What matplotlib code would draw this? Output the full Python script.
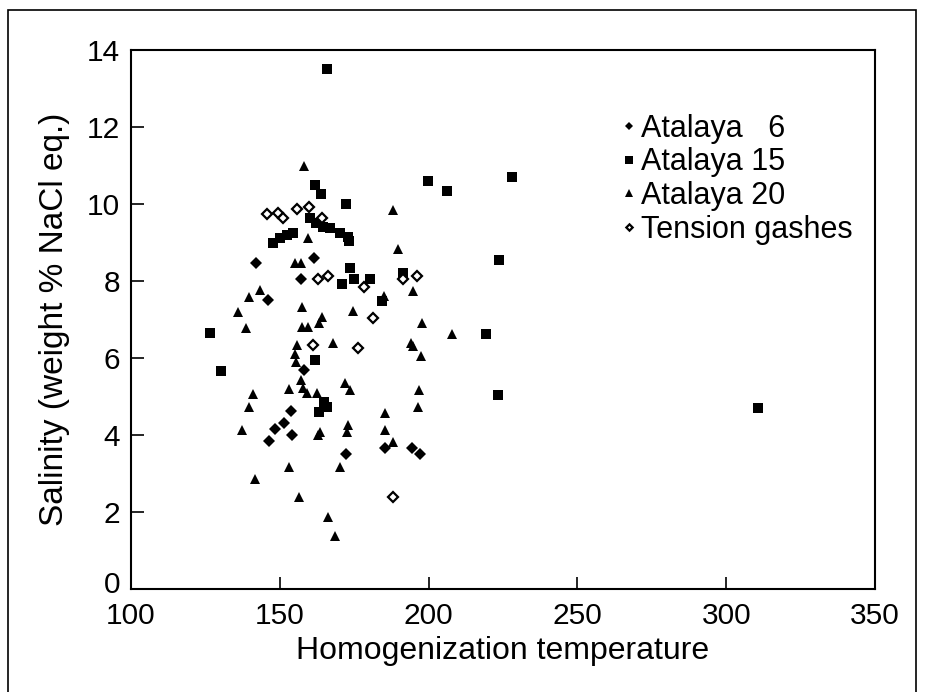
import matplotlib
matplotlib.use("Agg")
import matplotlib.pyplot as plt
import matplotlib.transforms as mtransforms
from matplotlib.patches import Rectangle

plt.rcParams['font.family'] = ['Liberation Sans', 'DejaVu Sans']

# Atalaya 6 (filled diamonds)
a6_t = [142, 146, 157, 161.4, 158, 153.8, 151.5, 148.4, 146.5, 154, 172.2, 185.2, 194.4, 197.2]
a6_s = [8.46, 7.52, 8.04, 8.6, 5.7, 4.62, 4.32, 4.15, 3.84, 4.0, 3.52, 3.66, 3.67, 3.5]

# Atalaya 15 (filled squares)
a15_t = [166, 126.4, 130.4, 147.8, 150.1, 152.3, 154.3, 161.8, 163.8, 172.2, 160.1, 162.2,
         164.6, 166.9, 170.2, 173, 173.2, 173.6, 175, 170.8, 180.3, 191.3, 184.2, 161.8,
         163.2, 165.8, 164.8, 199.9, 206.3, 228.1, 223.7, 219.3, 223.2, 310.8]
a15_s = [13.5, 6.64, 5.66, 8.98, 9.13, 9.19, 9.26, 10.49, 10.25, 10.0, 9.63, 9.5,
         9.41, 9.37, 9.24, 9.15, 9.05, 8.33, 8.04, 7.92, 8.04, 8.2, 7.48, 5.95,
         4.6, 4.72, 4.85, 10.6, 10.35, 10.71, 8.55, 6.62, 5.04, 4.69]

# Atalaya 20 (filled triangles)
a20_t = [158, 187.9, 189.8, 159.6, 155.1, 157, 139.6, 143.3, 135.9, 138.6, 141.1, 139.8,
         137.4, 141.7, 153.2, 157, 157.9, 159, 162.6, 171.9, 173.6, 162.7, 163.5, 173,
         172.5, 153.2, 170.2, 156.6, 166.3, 168.5, 185.3, 185.3, 188.1, 196.9, 196.5,
         157.4, 157.4, 159.6, 164.1, 163.3, 174.5, 155.7, 168, 155.2, 155.4, 194, 194.9,
         197.9, 208, 194.7, 197.4, 185]
a20_s = [10.98, 9.84, 8.82, 9.12, 8.46, 8.46, 7.59, 7.77, 7.2, 6.77, 5.06, 4.74,
         4.13, 2.85, 5.19, 5.43, 5.21, 5.08, 5.08, 5.34, 5.17, 4.0, 4.09, 4.26,
         4.09, 3.18, 3.18, 2.38, 1.88, 1.38, 4.56, 4.13, 3.83, 5.17, 4.72,
         7.33, 6.81, 6.81, 7.07, 6.9, 7.22, 6.34, 6.38, 6.1, 5.9, 6.38, 7.75,
         6.9, 6.62, 6.31, 6.05, 7.62]

# Tension gashes (open diamonds)
tg_t = [145.6, 149.5, 151, 155.9, 159.8, 164.1, 162.9, 166.1, 178.3, 181.2, 161.1, 176.2,
        191.3, 196.1, 188.1]
tg_s = [9.74, 9.76, 9.63, 9.86, 9.93, 9.65, 8.04, 8.13, 7.84, 7.03, 6.34, 6.25,
        8.04, 8.12, 2.4]

fig = plt.figure(figsize=(9.35, 6.92), dpi=100)
ax = fig.add_axes([0.1401, 0.1488, 0.7957, 0.7789])

ax.plot(a6_t, a6_s, 'D', ms=6.2, color='black', mew=0, label='Atalaya   6')
ax.plot(a15_t, a15_s, 's', ms=7.4, color='black', mew=0, label='Atalaya 15')
ax.plot(a20_t, a20_s, '^', ms=7.6, color='black', mew=0, label='Atalaya 20')
ax.plot(tg_t, tg_s, 'D', ms=4.6, mfc='white', mec='black', mew=1.6, label='Tension gashes')

ax.set_xlim(100, 350)
ax.set_ylim(0, 14)
ax.set_xticks([100, 150, 200, 250, 300, 350])
ax.set_yticks(range(0, 15, 2))
ax.tick_params(direction='in', length=9, width=1.2, labelsize=21.5)
ax.tick_params(axis='x', pad=9)
ax.tick_params(axis='y', pad=8)
for s in ax.spines.values():
    s.set_linewidth(1.5)

# nudge the "0" label up a little so it clears the "100" below it
ylab0 = ax.get_yticklabels()[0]
ylab0.set_transform(ylab0.get_transform() + mtransforms.ScaledTranslation(0, 5 / 72, fig.dpi_scale_trans))

ax.set_xlabel('Homogenization temperature', fontsize=23, labelpad=5)
ax.set_ylabel('Salinity (weight % NaCl eq.)', fontsize=24, labelpad=12)

ax.legend(loc='upper left', bbox_to_anchor=(0.661, 0.882), frameon=False, fontsize=22,
          handlelength=0.4, handletextpad=0.2, labelspacing=0.12, borderpad=0,
          borderaxespad=0, markerscale=0.7)

# scanned frame around the figure
fig.patches.append(Rectangle((0.0086, -0.05), 0.9711, 1.0355, transform=fig.transFigure,
                             fill=False, edgecolor='black', linewidth=1.2))

fig.savefig('out.png', dpi=100)
